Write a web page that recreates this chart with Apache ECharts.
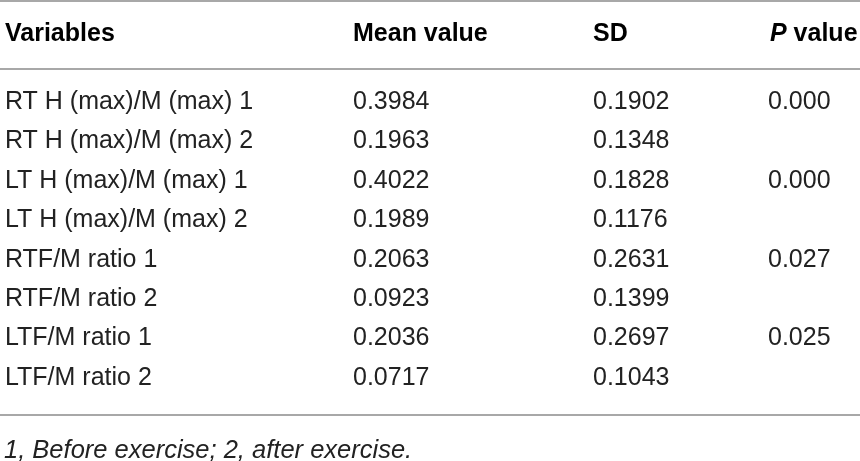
<!DOCTYPE html>
<html>
<head>
<meta charset="utf-8">
<script src="https://cdn.jsdelivr.net/npm/echarts@6/dist/echarts.min.js"></script>
<style>
  html, body { margin: 0; padding: 0; background: #fff; }
  #chart { width: 860px; height: 461px; }
</style>
</head>
<body>
<div id="chart"></div>
<script>
// table content
const headers = ['Variables', 'Mean value', 'SD', 'P value'];
const variables = [
  'RT H (max)/M (max) 1',
  'RT H (max)/M (max) 2',
  'LT H (max)/M (max) 1',
  'LT H (max)/M (max) 2',
  'RTF/M ratio 1',
  'RTF/M ratio 2',
  'LTF/M ratio 1',
  'LTF/M ratio 2'
];
const meanValues = ['0.3984', '0.1963', '0.4022', '0.1989', '0.2063', '0.0923', '0.2036', '0.0717'];
const sdValues = ['0.1902', '0.1348', '0.1828', '0.1176', '0.2631', '0.1399', '0.2697', '0.1043'];
const pValues = ['0.000', '', '0.000', '', '0.027', '', '0.025', ''];
const footnote = '1, Before exercise; 2, after exercise.';

// layout
const colX = [5, 353, 593, 768];
const FONT = 'Liberation Sans, Arial, Helvetica, sans-serif';
const FONT_SIZE = 25;
const LINE_COLOR = '#a8a8a8';

const columns = [variables, meanValues, sdValues, pValues];
const cells = [];
variables.forEach((v, row) => {
  columns.forEach((col, c) => {
    if (col[row] !== '') {
      cells.push({ value: [c, row], text: col[row] });
    }
  });
});

const chart = echarts.init(document.getElementById('chart'));

function hline(y) {
  return {
    type: 'line',
    shape: { x1: 0, y1: y, x2: 860, y2: y },
    style: { stroke: LINE_COLOR, lineWidth: 2 },
    silent: true
  };
}

const headerGraphics = headers.map((h, i) => {
  if (h === 'P value') {
    // italic P, bold rest
    return {
      type: 'text',
      left: colX[i] + 2,
      top: 22,
      style: {
        text: '{p|P}{b| value}',
        rich: {
          p: { fontFamily: FONT, fontSize: FONT_SIZE, fontWeight: 'bold', fontStyle: 'italic', fill: '#000' },
          b: { fontFamily: FONT, fontSize: FONT_SIZE, fontWeight: 'bold', fill: '#000' }
        }
      }
    };
  }
  return {
    type: 'text',
    left: colX[i],
    top: 22,
    style: { text: h, fontFamily: FONT, fontSize: FONT_SIZE, fontWeight: 'bold', fill: '#000' }
  };
});

const option = {
  animation: false,
  backgroundColor: '#fff',
  grid: { left: 0, right: 0, top: 82.5, bottom: 63.5 },
  xAxis: { type: 'value', min: 0, max: 860, show: false },
  yAxis: {
    type: 'category',
    data: variables,
    inverse: true,
    show: false
  },
  graphic: [
    hline(1),
    hline(69),
    hline(415),
    ...headerGraphics,
    {
      type: 'text',
      left: 4,
      top: 438,
      style: {
        text: footnote,
        fontFamily: FONT,
        fontSize: 25.5,
        fontStyle: 'italic',
        fill: '#222'
      }
    }
  ],
  series: [{
    type: 'custom',
    coordinateSystem: 'cartesian2d',
    data: cells,
    encode: { x: 0, y: 1 },
    renderItem(params, api) {
      const c = api.value(0);
      const row = api.value(1);
      const pt = api.coord([colX[c], row]);
      return {
        type: 'text',
        x: pt[0],
        y: pt[1],
        style: {
          text: cells[params.dataIndex].text,
          fontFamily: FONT,
          fontSize: FONT_SIZE,
          fill: '#222',
          align: 'left',
          verticalAlign: 'middle'
        }
      };
    }
  }]
};

chart.setOption(option);
window.addEventListener('resize', chart.resize);
</script>
</body>
</html>
